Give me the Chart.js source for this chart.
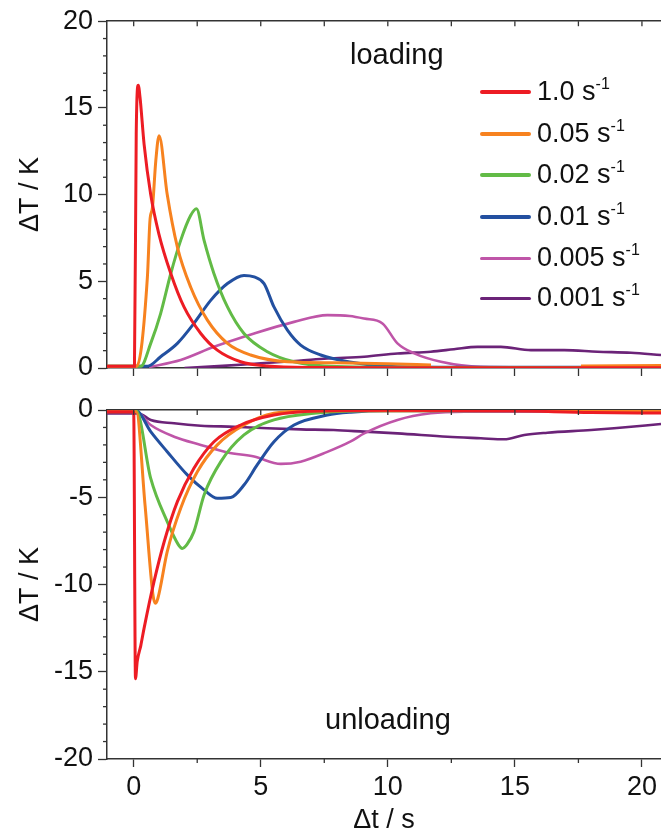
<!DOCTYPE html>
<html>
<head>
<meta charset="utf-8">
<script src="https://cdn.jsdelivr.net/npm/chart.js@4.4.1/dist/chart.umd.min.js"></script>
<style>
  html, body { margin: 0; padding: 0; background: #fff; }
  #wrap { position: relative; width: 661px; height: 834px; overflow: hidden; font-family: 'Liberation Sans', Arial, sans-serif; color: #111; }
  canvas { position: absolute; left: 0; }
  .note { position: absolute; font-size: 29px; line-height: 1; white-space: nowrap; }
  .lg-line { position: absolute; left: 480px; width: 51px; border-radius: 2px; }
  .lg-text { position: absolute; left: 537px; font-size: 27px; line-height: 1; white-space: nowrap; }
  .lg-text span { font-size: 16px; position: relative; top: -11px; }
</style>
</head>
<body>
<div id="wrap">
  <canvas id="topChart" width="661" height="395" style="top:0px"></canvas>
  <canvas id="botChart" width="661" height="449" style="top:385px"></canvas>
  <div class="note" style="left:350px;top:40px">loading</div>
  <div class="note" style="left:325px;top:705px">unloading</div>
  <div id="legend"></div>
</div>
<script>
// ---- series labels & colours ----
const seriesLabels = ['1.0 s-1', '0.05 s-1', '0.02 s-1', '0.01 s-1', '0.005 s-1', '0.001 s-1'];
const seriesRates = ['1.0', '0.05', '0.02', '0.01', '0.005', '0.001'];
const seriesColors = ['#ed1c24', '#f7821f', '#62bb46', '#2350a0', '#bf55a8', '#6b2378'];

// ---- tick values ----
const xMajorTicks = [0, 5, 10, 15, 20];
const xMinorTicks = [2.5, 7.5, 12.5, 17.5];
const xRange = [-1.05, 20.75];
const loadYRange = [0, 20];
const unloadYRange = [-20, 0];

// ---- loading (top panel) ----
const loadX_1 = [-1.05, 0.03, 0.1, 0.18, 0.25, 0.41, 0.67, 0.99, 1.46, 1.98, 2.64, 3.29, 4.21, 5.26, 7, 10, 15, 20.75];
const loadY_1 = [0.1, 0.1, 13.5, 16.3, 15.6, 12.9, 10.0, 7.74, 5.45, 3.52, 1.99, 1.03, 0.36, 0.11, 0.03, 0.02, 0.02, 0.02];

const loadX_05 = [-1.05, 0.12, 0.54, 0.64, 0.74, 0.87, 1.0, 1.32, 1.72, 2.24, 2.9, 3.69, 4.6, 6.05, 8, 10, 11.7, 14, 17.6, 20.75];
const loadY_05 = [0.1, 0.1, 5.25, 8.5, 9.27, 11.95, 13.4, 10.0, 6.97, 4.67, 2.76, 1.42, 0.75, 0.36, 0.3, 0.25, 0.17, null, 0.12, 0.15];

const loadX_02 = [-1.05, 0.28, 0.67, 1.06, 1.46, 1.85, 2.24, 2.47, 2.77, 3.16, 3.69, 4.34, 5.26, 6.31, 8, 12, 20.75];
const loadY_02 = [0.1, 0.1, 1.42, 3.14, 5.45, 7.36, 8.79, 9.18, 7.36, 5.44, 3.52, 1.99, 0.94, 0.36, 0.08, 0.03, 0.03];

const loadX_01 = [-1.05, 0.54, 1.06, 1.72, 2.37, 3.03, 3.69, 4.34, 4.74, 5.13, 5.52, 6.05, 6.57, 7.36, 8.5, 10, 12, 20.75];
const loadY_01 = [0.1, 0.1, 0.65, 1.42, 2.57, 3.9, 4.87, 5.34, 5.25, 4.87, 3.52, 2.18, 1.32, 0.75, 0.35, 0.1, 0.05, 0.05];

const loadX_005 = [0.6, 1.85, 3.16, 4.74, 6.31, 7.62, 8.5, 9.07, 9.79, 10.38, 11.04, 12.09, 13.66, 17.6, 20.75];
const loadY_005 = [0.05, 0.46, 1.22, 1.99, 2.66, 3.05, 3.0, 2.85, 2.57, 1.42, 0.84, 0.36, 0.07, 0.03, 0.03];

const loadX_001 = [2.0, 3.5, 5.0, 6.5, 7.62, 9.07, 10.38, 11.69, 12.6, 13.53, 14.45, 15.63, 16.94, 18.25, 19.57, 20.75];
const loadY_001 = [0.0, 0.12, 0.27, 0.42, 0.55, 0.65, 0.84, 0.94, 1.08, 1.22, 1.22, 1.03, 1.03, 0.94, 0.88, 0.75];

// ---- unloading (bottom panel) ----
const unloadX_1 = [-1.05, 0.0, 0.07, 0.14, 0.28, 0.41, 0.8, 1.2, 1.72, 2.37, 3.16, 4.21, 5.52, 7.23, 10, 15, 18, 20.75];
const unloadY_1 = [-0.1, -0.1, -15.4, -14.4, -13.5, -12.5, -9.84, -7.55, -5.25, -3.34, -1.82, -0.86, -0.29, -0.06, -0.02, -0.05, -0.15, -0.17];

const unloadX_05 = [-1.05, 0.1, 0.45, 0.75, 0.85, 0.95, 1.32, 1.85, 2.51, 3.29, 4.34, 5.52, 7, 20.75];
const unloadY_05 = [-0.1, -0.1, -5.5, -10.5, -11.08, -10.8, -8.12, -5.63, -3.53, -2.0, -0.86, -0.19, -0.05, -0.05];

const unloadX_02 = [-1.05, 0.1, 0.67, 1.32, 1.75, 1.91, 2.1, 2.37, 2.77, 3.43, 4.34, 5.52, 7.1, 9, 20.75];
const unloadY_02 = [-0.05, -0.05, -3.92, -6.4, -7.7, -7.93, -7.7, -6.97, -4.87, -2.96, -1.43, -0.57, -0.19, -0.05, -0.02];

const unloadX_01 = [-1.05, 0.1, 0.67, 1.32, 2.11, 2.77, 3.29, 3.82, 4.34, 4.86, 5.52, 6.31, 7.62, 8.54, 10, 20.75];
const unloadY_01 = [-0.05, -0.05, -1.24, -2.39, -3.72, -4.58, -5.06, -5.02, -4.3, -3.15, -1.82, -0.86, -0.29, -0.13, -0.05, -0.05];

const unloadX_005 = [-1.05, 0.1, 0.67, 1.59, 2.64, 3.69, 4.74, 5.79, 6.57, 7.62, 8.54, 9.07, 10.38, 11.69, 13, 20.75];
const unloadY_005 = [-0.1, -0.1, -0.86, -1.53, -2.0, -2.43, -2.67, -3.09, -2.96, -2.4, -1.8, -1.34, -0.57, -0.19, -0.1, -0.1];

const unloadX_001 = [-1.05, 0.2, 0.67, 1.59, 2.64, 3.95, 5.26, 6.57, 7.87, 9.07, 10.38, 12.35, 13.66, 14.58, 15.37, 16.28, 18, 18.9, 20.75];
const unloadY_001 = [-0.2, -0.2, -0.57, -0.76, -0.9, -0.96, -1.05, -1.11, -1.15, -1.24, -1.34, -1.53, -1.62, -1.68, -1.43, -1.3, -1.15, -1.05, -0.8];

const loadXs = [loadX_1, loadX_05, loadX_02, loadX_01, loadX_005, loadX_001];
const loadYs = [loadY_1, loadY_05, loadY_02, loadY_01, loadY_005, loadY_001];
const unloadXs = [unloadX_1, unloadX_05, unloadX_02, unloadX_01, unloadX_005, unloadX_001];
const unloadYs = [unloadY_1, unloadY_05, unloadY_02, unloadY_01, unloadY_005, unloadY_001];

const FONT = "'Liberation Sans', Arial, sans-serif";
const AXIS = '#333';

function makeDatasets(xs, ys) {
  return xs.map((xArr, i) => ({
    label: seriesLabels[i],
    data: xArr.map((x, j) => ({ x: x, y: ys[i][j] })),
    borderColor: seriesColors[i],
    backgroundColor: seriesColors[i],
    borderWidth: i >= 4 ? 2.6 : 3,
    pointRadius: 0,
    fill: false,
    spanGaps: false,
    cubicInterpolationMode: 'monotone'
  }));
}

const extraTicks = {
  id: 'extraTicks',
  afterDraw(chart, args, opts) {
    const ctx = chart.ctx;
    const y = chart.scales.y, xt = chart.scales.xTop, xb = chart.scales.x;
    ctx.save();
    ctx.strokeStyle = AXIS;
    ctx.lineWidth = 1.3;
    const seg = (x1, y1, x2, y2) => { ctx.beginPath(); ctx.moveTo(x1, y1); ctx.lineTo(x2, y2); ctx.stroke(); };
    for (let v = Math.ceil(y.min); v <= y.max; v++) {
      if (v % 5 === 0) continue;
      const py = y.getPixelForValue(v);
      seg(y.right - 4, py, y.right, py);
    }
    xMajorTicks.concat(xMinorTicks).forEach(v => {
      const px = xt.getPixelForValue(v);
      seg(px, xt.bottom, px, xt.bottom + 5);
    });
    if (opts.minorBottom) {
      xMinorTicks.forEach(v => {
        const px = xb.getPixelForValue(v);
        seg(px, xb.top, px, xb.top + 4);
      });
    }
    ctx.restore();
  }
};

function buildChart(id, xs, ys, yRange, opt) {
  const tickFont = { family: FONT, size: 27 };
  return new Chart(document.getElementById(id), {
    type: 'line',
    data: { datasets: makeDatasets(xs, ys) },
    plugins: [extraTicks],
    options: {
      responsive: false,
      animation: false,
      devicePixelRatio: 1,
      layout: { padding: 0 },
      plugins: {
        legend: { display: false },
        tooltip: { enabled: false },
        extraTicks: { minorBottom: opt.bottomLabels }
      },
      scales: {
        x: {
          type: 'linear', position: 'bottom',
          min: xRange[0], max: xRange[1],
          afterFit: s => { s.height = opt.xHeight; },
          ticks: {
            stepSize: opt.bottomLabels ? 5 : 2.5,
            includeBounds: false,
            autoSkip: false,
            maxRotation: 0,
            color: '#111',
            font: tickFont,
            padding: 4,
            callback: v => opt.bottomLabels ? String(v) : ''
          },
          grid: { display: true, drawOnChartArea: false, drawTicks: true, tickLength: 8, color: AXIS, tickWidth: 1.3 },
          border: { display: true, color: AXIS, width: 1.5 },
          title: opt.bottomLabels ? { display: true, text: 'Δt / s', color: '#111', font: { family: FONT, size: 27, lineHeight: 1.0 }, padding: { top: 0, bottom: 0 } } : { display: false }
        },
        xTop: {
          type: 'linear', position: 'top',
          min: xRange[0], max: xRange[1],
          afterFit: s => { s.height = opt.topHeight; },
          ticks: { display: false },
          grid: { display: false },
          border: { display: true, color: AXIS, width: 1.5 }
        },
        y: {
          type: 'linear', position: 'left',
          min: yRange[0], max: yRange[1],
          afterFit: s => { s.width = 107; },
          ticks: { stepSize: 5, color: '#111', font: tickFont, padding: 5 },
          grid: { display: true, drawOnChartArea: false, drawTicks: true, tickLength: 9, color: AXIS, tickWidth: 1.3 },
          border: { display: true, color: AXIS, width: 1.5 },
          title: { display: true, text: 'ΔT / K', color: '#111', font: { family: FONT, size: 27, lineHeight: 1.2 }, padding: { top: 14, bottom: 0 } }
        }
      }
    }
  });
}

buildChart('topChart', loadXs, loadYs, loadYRange, { xHeight: 27, topHeight: 20, bottomLabels: false });
buildChart('botChart', unloadXs, unloadYs, unloadYRange, { xHeight: 75, topHeight: 25, bottomLabels: true });

// ---- legend (HTML, with superscripts) ----
const legendRowY = [92, 134, 175, 217, 258, 298];
const legend = document.getElementById('legend');
seriesRates.forEach((r, i) => {
  const line = document.createElement('div');
  line.className = 'lg-line';
  const h = i >= 4 ? 3 : 4;
  line.style.top = (legendRowY[i] - h / 2) + 'px';
  line.style.height = h + 'px';
  line.style.background = seriesColors[i];
  legend.appendChild(line);
  const t = document.createElement('div');
  t.className = 'lg-text';
  t.style.top = (legendRowY[i] - 14) + 'px';
  t.innerHTML = r + ' s<span>-1</span>';
  legend.appendChild(t);
});
</script>
</body>
</html>
